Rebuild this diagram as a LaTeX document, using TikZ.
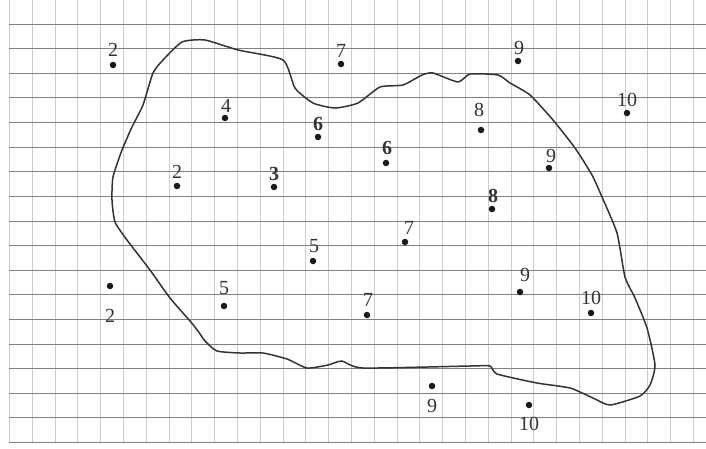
\documentclass[tikz,border=0pt]{standalone}
\usepackage{fontspec}
\setmainfont{Liberation Serif}
\begin{document}
\begin{tikzpicture}[x=1pt,y=-1pt,
  hline/.style={draw=black!50,line width=0.9pt},
  vline/.style={draw=black!20,line width=0.5pt},
  dot/.style={circle,fill=black!90,inner sep=0pt,minimum size=6.5pt},
  lbl/.style={inner sep=0pt,font=\fontsize{20}{20}\selectfont,text=black!80},
  blbl/.style={lbl,font=\fontsize{20}{20}\selectfont\bfseries},
  outline/.style={draw=black!80,line width=1.5pt,line join=round}]
\useasboundingbox (0,0) rectangle (706,448);
\fill[white] (0,0) rectangle (706,448);
% grid
\foreach \k in {0,...,30} \draw[vline] ({9.3+22.8*\k},0) -- ({9.3+22.8*\k},443);
\foreach \k in {0,...,17} \draw[hline] (9,{24+24.62*\k}) -- (706,{24+24.62*\k});
% closed curve
\draw[outline] plot[smooth cycle,tension=0.35] coordinates {
 (182,42) (205,40) (238,50) (283,60) (295,88) (313,103) (335,108) (358,103)
 (380,87) (403,85) (422,75) (433,73) (458,82) (470,74) (498,75) (510,83)
 (530,95) (553,120) (575,148) (592,175) (602,197) (617,233) (625,277)
 (635,298) (647,328) (655,365) (650,385) (640,396) (610,405) (593,398)
 (570,388) (537,383) (497,374) (490,366) (470,366) (363,368) (342,361)
 (328,365) (307,368) (287,359) (263,353) (240,353) (217,351) (205,341)
 (198,331) (190,321) (170,298) (150,270) (127,240) (115,222) (112,200)
 (113,177) (122,150) (132,127) (143,105) (153,73) (163,60)};
% points
\node[dot] (d1) at (113,65) {};  \node[lbl] (t1) at (113,50) {2};
\node[dot] (d2) at (341,64) {};  \node[lbl] (t2) at (341,51) {7};
\node[dot] (d3) at (518,61) {};  \node[lbl] (t3) at (519,48) {9};
\node[dot] (d4) at (627,113) {}; \node[lbl] (t4) at (627,100) {10};
\node[dot] (d5) at (225,118) {}; \node[lbl] (t5) at (226,106) {4};
\node[dot] (d6) at (318,137) {}; \node[blbl] (t6) at (318,124) {6};
\node[dot] (d7) at (481,130) {}; \node[lbl] (t7) at (479,110) {8};
\node[dot] (d8) at (386,163) {}; \node[blbl] (t8) at (387,148) {6};
\node[dot] (d9) at (549,168) {}; \node[lbl] (t9) at (551,156) {9};
\node[dot] (d10) at (177,186) {}; \node[lbl] (t10) at (177,172) {2};
\node[dot] (d11) at (274,187) {}; \node[blbl] (t11) at (274,174) {3};
\node[dot] (d12) at (492,209) {}; \node[blbl] (t12) at (493,196) {8};
\node[dot] (d13) at (405,242) {}; \node[lbl] (t13) at (409,228) {7};
\node[dot] (d14) at (313,261) {}; \node[lbl] (t14) at (314,246) {5};
\node[dot] (d15) at (520,292) {}; \node[lbl] (t15) at (525,275) {9};
\node[dot] (d16) at (110,286) {}; \node[lbl] (t16) at (110,316) {2};
\node[dot] (d17) at (224,306) {}; \node[lbl] (t17) at (224,288) {5};
\node[dot] (d18) at (367,315) {}; \node[lbl] (t18) at (368,300) {7};
\node[dot] (d19) at (591,313) {}; \node[lbl] (t19) at (591,298) {10};
\node[dot] (d20) at (432,386) {}; \node[lbl] (t20) at (432,406) {9};
\node[dot] (d21) at (529,405) {}; \node[lbl] (t21) at (529,424) {10};
\end{tikzpicture}
\end{document}
